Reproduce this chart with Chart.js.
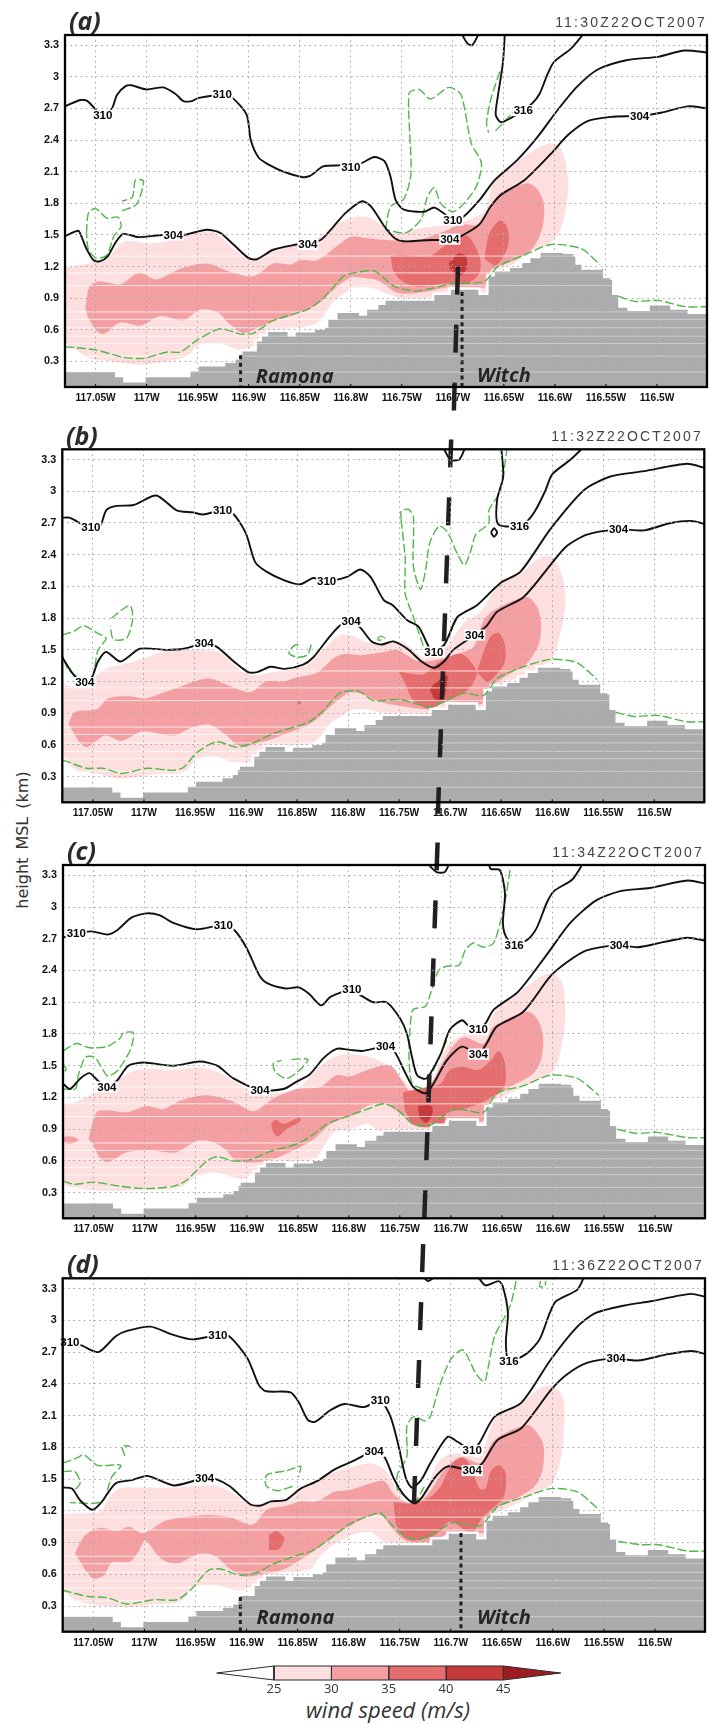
<!DOCTYPE html>
<html>
<head>
<meta charset="utf-8">
<title>Wind speed cross sections</title>
<script src="https://cdn.jsdelivr.net/npm/chart.js@4"></script>
<style>
  html, body { margin: 0; padding: 0; background: #fff; }
  #page { position: relative; width: 709px; height: 1724px; overflow: hidden; }
  canvas { position: absolute; left: 0; }
  .tag { position: absolute; font: italic 700 25px "Open Sans", sans-serif; color: #2b2b2b; line-height: 1; }
  .time { position: absolute; font: 14px "Liberation Sans", sans-serif; letter-spacing: 2.2px; color: #444; line-height: 1; white-space: nowrap; }
  #yTitle { position: absolute; left: 22px; top: 840px; font: 16px "DejaVu Sans", sans-serif; color: #333; word-spacing: 3px;
            transform: translate(-50%, -50%) rotate(-90deg); white-space: nowrap; }
  #barTitle { position: absolute; left: 388px; top: 1709px; font: italic 22px "Open Sans", sans-serif; color: #333;
              transform: translate(-50%, -50%); white-space: nowrap; }
</style>
</head>
<body>
<div id="page">
  <div id="yTitle">height MSL (km)</div>
  <div id="barTitle">wind speed (m/s)</div>
</div>
<script>
// axis ticks
const lonTicks = [117.05, 117, 116.95, 116.9, 116.85, 116.8, 116.75, 116.7, 116.65, 116.6, 116.55, 116.5];
const heightTicks = [0.3, 0.6, 0.9, 1.2, 1.5, 1.8, 2.1, 2.4, 2.7, 3, 3.3];
const lonRange = [117.08, 116.451];
const heightRange = [0.058, 3.397];

// terrain top, [lon of step start, km]
const terrain = [[117.08,.2],[117.031,.15],[117.023,.1],[117.001,.15],[116.957,.205],[116.949,.253],[116.923,.285],[116.913,.316],[116.908,.364],[116.906,.395],[116.892,.49],[116.887,.537],[116.881,.58],[116.862,.537],[116.854,.575],[116.835,.6],[116.825,.62],[116.822,.695],[116.813,.759],[116.792,.733],[116.784,.79],[116.773,.837],[116.766,.875],[116.718,.93],[116.702,.98],[116.675,.93],[116.665,1.106],[116.659,1.153],[116.644,1.187],[116.632,1.235],[116.624,1.28],[116.614,1.33],[116.592,1.32],[116.582,1.295],[116.58,1.217],[116.574,1.17],[116.554,1.18],[116.553,1.09],[116.546,1.075],[116.544,.93],[116.538,.81],[116.529,.78],[116.507,.83],[116.494,.83],[116.487,.79],[116.47,.75],[116.45,.75]];
// faint light rows that run through the shaded fields
const bandHeights = [1.3, 1.14, 1.02, .77, .7, .62, .54, .47, .35, .2];

// panel a, 11:30Z
const aWind25 = [[117.08,1.19],[117.062,1.22],[117.049,1.25],[117.039,1.28],[117.031,1.36],[117.021,1.44],[116.997,1.42],[116.98,1.44],[116.954,1.51],[116.935,1.53],[116.915,1.37],[116.9,1.28],[116.892,1.26],[116.872,1.37],[116.85,1.41],[116.833,1.47],[116.817,1.58],[116.8,1.66],[116.784,1.67],[116.771,1.6],[116.759,1.52],[116.735,1.56],[116.692,1.62],[116.674,1.69],[116.668,1.74],[116.663,1.93],[116.658,2.05],[116.637,2.2],[116.614,2.34],[116.604,2.37],[116.594,2.32],[116.587,2.02],[116.589,1.77],[116.596,1.52],[116.607,1.41],[116.623,1.35],[116.64,1.23],[116.659,1.15],[116.668,.95],[116.679,.96],[116.699,.98],[116.718,.92],[116.744,.88],[116.761,.93],[116.78,1],[116.8,1],[116.804,.96],[116.817,.87],[116.827,.73],[116.836,.65],[116.882,.57],[116.892,.47],[116.908,.41],[116.928,.47],[116.948,.46],[116.961,.35],[116.98,.3],[117.006,.27],[117.033,.3],[117.056,.33],[117.069,.41],[117.08,.47]];
const aWind30 = [[117.06,.81],[117.056,1.01],[117.046,1.06],[117.026,1.03],[117.008,1.14],[116.99,1.08],[116.967,1.18],[116.941,1.23],[116.918,1.15],[116.895,1.11],[116.876,1.23],[116.859,1.22],[116.85,1.26],[116.833,1.26],[116.817,1.37],[116.8,1.48],[116.784,1.47],[116.761,1.45],[116.735,1.45],[116.712,1.52],[116.692,1.6],[116.674,1.6],[116.663,1.78],[116.653,1.9],[116.627,1.99],[116.617,1.93],[116.611,1.8],[116.612,1.58],[116.622,1.37],[116.64,1.26],[116.656,1.2],[116.664,1.15],[116.668,1.01],[116.686,1],[116.702,1.01],[116.728,.96],[116.754,.95],[116.774,1.07],[116.793,1.1],[116.8,1.1],[116.817,.98],[116.833,.84],[116.856,.74],[116.882,.66],[116.905,.57],[116.918,.65],[116.931,.77],[116.948,.79],[116.964,.69],[116.987,.73],[117.006,.64],[117.026,.67],[117.042,.56],[117.05,.6],[117.058,.73]];
const aWind35a = [[116.761,1.3],[116.751,1.31],[116.723,1.3],[116.705,1.42],[116.687,1.5],[116.674,1.3],[116.674,1.14],[116.686,1.04],[116.708,1.04],[116.735,1.01],[116.751,1.07],[116.759,1.17]];
const aWind35b = [[116.669,1.28],[116.664,1.52],[116.653,1.64],[116.646,1.55],[116.646,1.39],[116.653,1.26],[116.659,1.21],[116.666,1.25]];
const aWind40 = [[116.695,1.33],[116.687,1.3],[116.687,1.17],[116.694,1.11],[116.702,1.17],[116.704,1.23]];
const aTheta304 = [[117.08,1.49],[117.067,1.54],[117.064,1.49],[117.059,1.37],[117.052,1.26],[117.046,1.25],[117.038,1.3],[117.031,1.42],[117.023,1.51],[117.008,1.48],[116.984,1.5],[116.964,1.5],[116.941,1.55],[116.928,1.52],[116.915,1.41],[116.9,1.28],[116.892,1.27],[116.876,1.36],[116.853,1.41],[116.83,1.45],[116.817,1.58],[116.805,1.71],[116.789,1.82],[116.78,1.77],[116.767,1.58],[116.757,1.47],[116.748,1.44],[116.728,1.45],[116.703,1.46],[116.692,1.49],[116.674,1.6],[116.663,1.77],[116.653,1.88],[116.63,2.02],[116.604,2.27],[116.587,2.45],[116.568,2.58],[116.545,2.62],[116.517,2.63],[116.496,2.66],[116.47,2.72],[116.45,2.7]];
const aTheta310 = [[117.08,2.72],[117.065,2.78],[117.058,2.77],[117.043,2.63],[117.034,2.7],[117.029,2.83],[117.021,2.91],[117.015,2.92],[117,2.88],[116.984,2.9],[116.972,2.84],[116.964,2.77],[116.956,2.77],[116.949,2.8],[116.926,2.83],[116.917,2.81],[116.902,2.64],[116.898,2.4],[116.89,2.23],[116.879,2.16],[116.866,2.1],[116.848,2.05],[116.84,2.06],[116.827,2.15],[116.81,2.16],[116.79,2.18],[116.777,2.24],[116.767,2.2],[116.761,2.05],[116.756,1.83],[116.748,1.74],[116.728,1.72],[116.718,1.76],[116.707,1.69],[116.7,1.64],[116.69,1.67],[116.674,1.83],[116.659,2.02],[116.637,2.21],[116.617,2.43],[116.597,2.69],[116.578,2.91],[116.558,3.07],[116.529,3.16],[116.499,3.19],[116.473,3.25],[116.45,3.23]];
const aTheta316 = [[116.571,3.42],[116.584,3.27],[116.601,3.14],[116.607,3.03],[116.615,2.84],[116.622,2.75],[116.631,2.68],[116.643,2.61],[116.653,2.57],[116.658,2.64],[116.656,2.81],[116.651,3.13],[116.649,3.42]];
const aThetaTop = [[116.692,3.42],[116.686,3.32],[116.681,3.3],[116.674,3.42]];
const aGreen1 = [[117.08,.44],[117.05,.41],[117.023,.34],[117.003,.33],[116.98,.39],[116.967,.39],[116.951,.5],[116.928,.61],[116.908,.56],[116.895,.57],[116.876,.69],[116.843,.79],[116.827,.9],[116.807,1.11],[116.797,1.14],[116.777,1.16],[116.757,1.01],[116.735,.97],[116.699,1.04],[116.669,1.06],[116.656,1.2],[116.63,1.31],[116.604,1.41],[116.574,1.37],[116.556,1.22]];
const aGreen2 = [[116.538,.92],[116.522,.87],[116.499,.88],[116.473,.82],[116.45,.82]];
const aGreen3 = [[116.766,1.55],[116.761,1.77],[116.748,1.84],[116.741,2.09],[116.743,2.84],[116.733,2.88],[116.722,2.79],[116.704,2.9],[116.692,2.83],[116.682,2.37],[116.672,2.18],[116.677,1.96],[116.689,1.8],[116.7,1.72],[116.712,1.8],[116.718,1.95],[116.725,1.86],[116.731,1.65],[116.746,1.52],[116.766,1.55]];
const aGreen4 = [[116.604,3.42],[116.607,3.21],[116.62,2.97],[116.636,2.72],[116.659,2.48]];
const aGreen5 = [[116.654,3.05],[116.663,2.78],[116.667,2.56],[116.665,2.47]];
const aGreen6 = [[117.059,1.52],[117.057,1.71],[117.05,1.75],[117.039,1.66],[117.028,1.67],[117.025,1.58],[117.032,1.49],[117.039,1.31],[117.049,1.28],[117.057,1.36],[117.059,1.52]];
const aGreen7 = [[117.024,1.73],[117.01,1.79],[117.003,2.01],[117.011,2.02],[117.014,1.86],[117.024,1.82]];
const aLabels = [['310',117.043,2.635],['310',116.926,2.83],['310',116.8,2.14],['304',116.974,1.5],['304',116.842,1.41],['316',116.631,2.68],['304',116.517,2.63],['310',116.7,1.64],['304',116.703,1.46]];
const aSlash = [[116.695,1.2],[116.699,-.165]];

// panel b, 11:32Z
const bWind25 = [[117.08,1.18],[117.068,1.15],[117.051,1.23],[117.037,1.32],[117.017,1.37],[116.997,1.43],[116.978,1.49],[116.945,1.5],[116.925,1.47],[116.906,1.31],[116.893,1.26],[116.863,1.31],[116.84,1.36],[116.827,1.48],[116.808,1.64],[116.798,1.64],[116.782,1.57],[116.765,1.56],[116.746,1.57],[116.726,1.43],[116.707,1.5],[116.687,1.75],[116.671,1.85],[116.651,2.13],[116.631,2.22],[116.612,2.37],[116.6,2.38],[116.59,2.19],[116.587,1.94],[116.592,1.66],[116.6,1.42],[116.615,1.32],[116.635,1.23],[116.661,1.13],[116.667,.96],[116.68,.96],[116.697,.98],[116.718,.88],[116.739,.9],[116.765,.9],[116.782,.94],[116.798,.93],[116.801,.91],[116.818,.8],[116.827,.68],[116.837,.61],[116.88,.57],[116.893,.45],[116.912,.44],[116.929,.49],[116.948,.47],[116.961,.34],[116.984,.33],[117.024,.28],[117.046,.33],[117.066,.36],[117.08,.5]];
const bWind30 = [[117.074,.8],[117.068,.91],[117.046,.94],[117.035,1.04],[117.014,1.06],[116.999,1.04],[116.971,1.13],[116.938,1.23],[116.919,1.17],[116.896,1.1],[116.88,1.2],[116.863,1.2],[116.85,1.24],[116.831,1.28],[116.814,1.42],[116.804,1.46],[116.788,1.45],[116.778,1.46],[116.765,1.48],[116.752,1.5],[116.733,1.4],[116.716,1.4],[116.69,1.47],[116.677,1.53],[116.667,1.78],[116.654,1.89],[116.625,2],[116.615,1.91],[116.611,1.75],[116.613,1.56],[116.625,1.37],[116.644,1.26],[116.657,1.18],[116.666,1.1],[116.669,.99],[116.687,.99],[116.703,1.01],[116.72,.94],[116.742,.96],[116.769,1.01],[116.788,1.09],[116.798,1.1],[116.801,1.09],[116.818,.96],[116.834,.82],[116.857,.72],[116.883,.63],[116.906,.59],[116.919,.69],[116.935,.79],[116.952,.77],[116.971,.69],[117.001,.73],[117.022,.64],[117.038,.69],[117.056,.58],[117.064,.63]];
const bWind35a = [[116.75,1.29],[116.726,1.27],[116.71,1.39],[116.689,1.46],[116.674,1.29],[116.68,1.15],[116.693,1.06],[116.71,.99],[116.72,.94],[116.736,1.02],[116.744,1.18]];
const bWind35b = [[116.674,1.29],[116.661,1.62],[116.652,1.66],[116.646,1.53],[116.647,1.37],[116.657,1.24],[116.664,1.19]];
const bWind35c = [[116.85,1],[116.848,1.02],[116.846,1],[116.848,.98]];
const bWind40 = [[116.72,1.13],[116.713,1.2],[116.703,1.26],[116.704,1.12],[116.708,1.02],[116.716,1.04]];
const bTheta304 = [[117.08,1.43],[117.073,1.32],[117.066,1.23],[117.058,1.19],[117.051,1.24],[117.045,1.39],[117.037,1.48],[117.023,1.39],[117.004,1.51],[116.978,1.5],[116.961,1.51],[116.941,1.56],[116.929,1.53],[116.912,1.39],[116.898,1.29],[116.889,1.29],[116.876,1.34],[116.862,1.32],[116.844,1.36],[116.834,1.43],[116.821,1.59],[116.808,1.73],[116.797,1.77],[116.788,1.71],[116.777,1.58],[116.767,1.55],[116.756,1.58],[116.742,1.51],[116.728,1.39],[116.716,1.33],[116.706,1.39],[116.697,1.5],[116.676,1.64],[116.664,1.73],[116.654,1.86],[116.628,2],[116.602,2.3],[116.586,2.48],[116.566,2.59],[116.535,2.64],[116.51,2.63],[116.484,2.7],[116.464,2.72],[116.45,2.69]];
const bTheta310 = [[117.08,2.75],[117.073,2.75],[117.061,2.69],[117.052,2.66],[117.043,2.67],[117.037,2.82],[117.028,2.86],[117.01,2.87],[116.988,2.96],[116.968,2.82],[116.952,2.8],[116.942,2.78],[116.923,2.82],[116.912,2.78],[116.9,2.6],[116.891,2.33],[116.88,2.24],[116.863,2.16],[116.847,2.12],[116.834,2.18],[116.821,2.15],[116.801,2.19],[116.788,2.26],[116.778,2.19],[116.765,1.97],[116.756,1.92],[116.742,1.78],[116.731,1.72],[116.721,1.53],[116.716,1.48],[116.705,1.56],[116.693,1.81],[116.674,1.92],[116.651,2.13],[116.631,2.24],[116.602,2.64],[116.569,3.01],[116.543,3.14],[116.51,3.19],[116.468,3.26],[116.45,3.22]];
const bTheta316 = [[116.569,3.42],[116.582,3.3],[116.6,3.16],[116.607,3],[116.617,2.81],[116.625,2.71],[116.632,2.67],[116.653,2.69],[116.654,2.92],[116.648,3.14],[116.65,3.42]];
const bThetaLoop = [[116.66,2.61],[116.657,2.65],[116.654,2.61],[116.657,2.57],[116.66,2.61]];
const bThetaTop = [[116.707,3.42],[116.7,3.3],[116.691,3.3],[116.685,3.42]];
const bGreen1 = [[117.08,.46],[117.056,.38],[117.04,.38],[117.022,.33],[116.997,.38],[116.971,.36],[116.961,.39],[116.948,.53],[116.929,.63],[116.909,.58],[116.893,.62],[116.873,.71],[116.84,.81],[116.827,.9],[116.808,1.09],[116.79,1.11],[116.775,1.02],[116.749,1.03],[116.72,.96],[116.706,1.01],[116.687,1.09],[116.667,1.07],[116.654,1.23],[116.628,1.34],[116.602,1.41],[116.576,1.38],[116.556,1.22]];
const bGreen2 = [[116.538,.91],[116.52,.87],[116.497,.88],[116.468,.82],[116.45,.82]];
const bGreen3 = [[116.748,2.73],[116.748,2.81],[116.741,2.83],[116.736,2.76],[116.736,2.29],[116.729,2.07],[116.724,2.26],[116.72,2.51],[116.711,2.67],[116.703,2.62],[116.693,2.41],[116.686,2.3],[116.68,2.43],[116.675,2.59],[116.662,2.7],[116.662,2.82],[116.651,3],[116.644,3.42]];
const bGreen4 = [[116.748,2.73],[116.744,2.35],[116.744,2.03],[116.736,1.81],[116.726,1.53]];
const bGreen5 = [[116.602,3.42],[116.605,3.2],[116.618,2.92],[116.631,2.76],[116.644,2.59],[116.654,2.45],[116.672,2.3],[116.684,2.1],[116.693,1.81],[116.706,1.53]];
const bGreen6 = [[116.771,1.61],[116.768,1.63],[116.764,1.61],[116.77,1.59],[116.771,1.61]];
const bGreen7 = [[117.08,1.64],[117.068,1.68],[117.059,1.73],[117.046,1.66],[117.037,1.61],[117.045,1.5],[117.051,1.24],[117.063,1.24],[117.074,1.31],[117.08,1.45]];
const bGreen8 = [[117.032,1.8],[117.014,1.92],[117.011,1.8],[117.017,1.61],[117.03,1.6],[117.033,1.73]];
const bGreen9 = [[116.836,1.55],[116.84,1.45],[116.85,1.43],[116.858,1.47],[116.853,1.54],[116.846,1.55]];
const bLabels = [['310',117.052,2.66],['310',116.923,2.82],['310',116.821,2.15],['304',117.058,1.19],['304',116.941,1.56],['304',116.797,1.77],['310',116.716,1.48],['304',116.676,1.64],['316',116.632,2.67],['304',116.535,2.64]];
const bSlash = [[116.699,3.49],[116.712,-.05]];

// panel c, 11:34Z
const cWind25 = [[117.08,1.13],[117.067,1.16],[117.05,1.24],[117.037,1.31],[117.024,1.38],[117.011,1.45],[116.995,1.47],[116.972,1.46],[116.946,1.48],[116.926,1.43],[116.903,1.3],[116.893,1.24],[116.88,1.24],[116.861,1.25],[116.848,1.3],[116.831,1.47],[116.815,1.58],[116.799,1.61],[116.779,1.58],[116.759,1.49],[116.743,1.33],[116.733,1.28],[116.72,1.33],[116.704,1.68],[116.688,1.79],[116.668,1.84],[116.655,2.03],[116.632,2.2],[116.612,2.34],[116.601,2.37],[116.591,2.29],[116.588,1.99],[116.591,1.71],[116.599,1.46],[116.612,1.38],[116.635,1.27],[116.661,1.14],[116.666,.94],[116.678,.95],[116.697,1],[116.717,.89],[116.74,.87],[116.766,.87],[116.782,.95],[116.799,.9],[116.815,.87],[116.825,.73],[116.835,.6],[116.88,.59],[116.89,.51],[116.906,.43],[116.929,.49],[116.949,.46],[116.965,.35],[116.998,.33],[117.044,.32],[117.07,.35],[117.08,.38]];
const cWind30 = [[117.055,.81],[117.047,1.06],[117.037,1.08],[117.018,1.06],[116.998,1.12],[116.982,1.09],[116.965,1.17],[116.939,1.22],[116.913,1.16],[116.893,1.07],[116.874,1.19],[116.851,1.28],[116.828,1.3],[116.812,1.41],[116.799,1.4],[116.779,1.47],[116.759,1.5],[116.746,1.33],[116.737,1.24],[116.72,1.33],[116.707,1.55],[116.694,1.73],[116.686,1.77],[116.668,1.71],[116.658,1.87],[116.625,2.01],[116.616,1.95],[116.61,1.8],[116.611,1.58],[116.619,1.43],[116.642,1.3],[116.658,1.2],[116.665,1.11],[116.668,.98],[116.681,.98],[116.702,1],[116.72,.92],[116.737,.94],[116.75,1.05],[116.766,1.14],[116.782,1.12],[116.799,1.01],[116.802,1.01],[116.818,.95],[116.834,.81],[116.854,.7],[116.88,.6],[116.91,.6],[116.92,.7],[116.933,.78],[116.949,.79],[116.969,.68],[116.995,.7],[117.018,.68],[117.036,.59],[117.044,.63],[117.05,.75]];
const cWind30b = [[117.08,.83],[117.072,.83],[117.065,.8],[117.073,.76],[117.08,.78]];
const cWind35a = [[116.747,1.25],[116.724,1.3],[116.71,1.33],[116.701,1.46],[116.688,1.49],[116.673,1.46],[116.661,1.55],[116.653,1.64],[116.647,1.52],[116.648,1.3],[116.668,1.16],[116.688,1.09],[116.704,1.05],[116.707,.95],[116.727,.92],[116.737,.95],[116.745,1.08]];
const cWind35b = [[116.876,.95],[116.872,.99],[116.864,.95],[116.848,1.01],[116.848,.97],[116.861,.9],[116.87,.83],[116.875,.89]];
const cWind40 = [[116.732,1.12],[116.719,1.12],[116.718,1.05],[116.724,.96],[116.731,1.01]];
const cTheta304 = [[117.08,1.33],[117.073,1.28],[117.063,1.38],[117.054,1.43],[117.046,1.36],[117.037,1.3],[117.027,1.36],[117.016,1.5],[117.001,1.53],[116.972,1.5],[116.946,1.54],[116.929,1.5],[116.913,1.38],[116.887,1.27],[116.864,1.28],[116.851,1.35],[116.838,1.42],[116.825,1.57],[116.812,1.66],[116.799,1.65],[116.786,1.64],[116.764,1.68],[116.755,1.63],[116.746,1.46],[116.737,1.3],[116.725,1.24],[116.717,1.33],[116.704,1.55],[116.689,1.68],[116.673,1.61],[116.665,1.71],[116.655,1.87],[116.629,2.01],[116.603,2.34],[116.586,2.48],[116.567,2.59],[116.535,2.64],[116.517,2.62],[116.491,2.67],[116.468,2.71],[116.45,2.68]];
const cTheta310 = [[117.08,2.71],[117.067,2.75],[117.052,2.77],[117.036,2.74],[117.027,2.78],[117.013,2.9],[116.998,2.94],[116.985,2.92],[116.972,2.85],[116.949,2.79],[116.923,2.83],[116.912,2.78],[116.9,2.61],[116.888,2.36],[116.88,2.28],[116.862,2.23],[116.849,2.24],[116.839,2.18],[116.827,2.07],[116.818,2.15],[116.797,2.22],[116.789,2.17],[116.776,2.1],[116.763,2.1],[116.75,1.95],[116.743,1.8],[116.738,1.58],[116.733,1.41],[116.724,1.38],[116.71,1.61],[116.701,1.84],[116.689,1.93],[116.683,1.88],[116.673,1.84],[116.666,1.9],[116.658,2.03],[116.634,2.2],[116.606,2.55],[116.583,2.85],[116.558,3.06],[116.534,3.15],[116.505,3.18],[116.468,3.25],[116.45,3.22]];
const cTheta316 = [[116.57,3.42],[116.581,3.26],[116.599,3.15],[116.606,3.04],[116.616,2.8],[116.625,2.69],[116.638,2.64],[116.646,2.72],[116.649,2.85],[116.647,3.13],[116.652,3.35],[116.661,3.36],[116.663,3.42]];
const cThetaTop = [[116.724,3.42],[116.714,3.33],[116.706,3.33],[116.701,3.42]];
const cGreen1 = [[117.08,.41],[117.069,.38],[117.05,.4],[117.024,.36],[116.998,.34],[116.972,.36],[116.96,.41],[116.939,.6],[116.929,.64],[116.913,.6],[116.897,.61],[116.877,.69],[116.851,.76],[116.835,.85],[116.821,.95],[116.799,1.03],[116.782,1.09],[116.766,1.14],[116.753,1.09],[116.737,.95],[116.72,.94],[116.697,1.09],[116.668,1.06],[116.655,1.24],[116.629,1.31],[116.603,1.41],[116.576,1.38],[116.555,1.22]];
const cGreen2 = [[116.537,.9],[116.518,.86],[116.498,.87],[116.468,.82],[116.45,.82]];
const cGreen3 = [[116.642,3.35],[116.648,3],[116.658,2.66],[116.668,2.62],[116.678,2.66],[116.686,2.59],[116.692,2.45],[116.704,2.44],[116.712,2.4],[116.72,2.18],[116.725,2.06],[116.737,2.03],[116.74,1.84],[116.741,1.58],[116.738,1.33],[116.727,1.28]];
const cGreen4 = [[116.601,3.42],[116.606,3.19],[116.62,2.88],[116.635,2.72],[116.645,2.56],[116.658,2.37],[116.668,2.18],[116.681,2.14],[116.692,2.09],[116.704,1.74],[116.719,1.42]];
const cGreen5 = [[117.08,1.64],[117.067,1.71],[117.054,1.67],[117.037,1.68],[117.024,1.76],[117.021,1.81],[117.011,1.81],[117.014,1.65],[117.026,1.46],[117.036,1.4],[117.042,1.48],[117.049,1.58],[117.058,1.58],[117.065,1.41],[117.068,1.28],[117.08,1.28]];
const cGreen6 = [[117.08,1.52],[117.077,1.47],[117.08,1.42]];
const cGreen7 = [[116.856,1.56],[116.84,1.56],[116.848,1.46],[116.861,1.38],[116.872,1.44],[116.874,1.52],[116.866,1.55]];
const cLabels = [['310',117.067,2.75],['310',116.923,2.83],['310',116.797,2.22],['304',117.037,1.3],['304',116.887,1.27],['304',116.764,1.68],['310',116.673,1.84],['304',116.673,1.61],['316',116.638,2.64],['304',116.535,2.64]];
const cSlash = [[116.713,3.61],[116.727,-.22]];

// panel d, 11:36Z
const dWind25 = [[117.08,1.17],[117.053,1.18],[117.043,1.19],[117.035,1.32],[117.025,1.41],[117.01,1.42],[116.971,1.42],[116.932,1.44],[116.916,1.38],[116.902,1.29],[116.889,1.24],[116.88,1.29],[116.86,1.3],[116.84,1.44],[116.818,1.55],[116.798,1.61],[116.778,1.65],[116.765,1.59],[116.756,1.46],[116.746,1.3],[116.736,1.27],[116.726,1.35],[116.713,1.65],[116.7,1.74],[116.684,1.73],[116.671,1.71],[116.661,1.98],[116.654,2.11],[116.631,2.22],[116.612,2.36],[116.6,2.38],[116.59,2.27],[116.589,2],[116.592,1.71],[116.6,1.46],[116.615,1.38],[116.635,1.27],[116.661,1.14],[116.666,.94],[116.68,.95],[116.7,.99],[116.72,.88],[116.746,.88],[116.765,.91],[116.778,1],[116.798,.97],[116.801,.95],[116.818,.86],[116.831,.73],[116.837,.65],[116.88,.59],[116.889,.51],[116.906,.45],[116.932,.5],[116.952,.48],[116.965,.34],[116.988,.32],[117.017,.29],[117.046,.31],[117.066,.35],[117.08,.45]];
const dWind30 = [[117.068,.8],[117.058,.97],[117.043,1.04],[117.027,1.01],[117.015,1.05],[117.001,.99],[116.978,1.11],[116.938,1.16],[116.916,1.14],[116.894,1.07],[116.88,1.21],[116.86,1.25],[116.847,1.29],[116.831,1.29],[116.814,1.38],[116.798,1.4],[116.778,1.46],[116.765,1.48],[116.756,1.36],[116.746,1.29],[116.736,1.27],[116.723,1.35],[116.706,1.59],[116.69,1.71],[116.671,1.65],[116.657,1.87],[116.625,2.01],[116.615,1.93],[116.609,1.81],[116.61,1.59],[116.618,1.43],[116.641,1.29],[116.657,1.22],[116.664,1.14],[116.667,1],[116.68,.99],[116.7,.99],[116.72,.91],[116.742,.91],[116.756,1.02],[116.769,1.16],[116.785,1.13],[116.798,1.06],[116.801,1.05],[116.821,.91],[116.84,.78],[116.863,.65],[116.88,.61],[116.902,.58],[116.916,.65],[116.932,.78],[116.948,.79],[116.968,.7],[116.984,.75],[116.999,.92],[117.006,.81],[117.014,.72],[117.032,.71],[117.04,.59],[117.05,.56],[117.058,.64]];
const dWind35a = [[116.756,1.28],[116.736,1.27],[116.72,1.33],[116.71,1.43],[116.698,1.65],[116.687,1.7],[116.679,1.59],[116.672,1.41],[116.666,1.41],[116.661,1.57],[116.653,1.63],[116.646,1.55],[116.648,1.33],[116.657,1.24],[116.669,1.14],[116.68,.99],[116.7,1.1],[116.716,.97],[116.736,.92],[116.746,.95],[116.754,1.08]];
const dWind35b = [[116.878,.97],[116.871,1.01],[116.863,.94],[116.868,.84],[116.878,.83]];
const dTheta304 = [[117.08,1.42],[117.071,1.41],[117.063,1.3],[117.051,1.21],[117.043,1.27],[117.028,1.46],[117.012,1.49],[116.997,1.53],[116.971,1.44],[116.941,1.51],[116.93,1.5],[116.916,1.43],[116.896,1.26],[116.886,1.25],[116.876,1.29],[116.862,1.3],[116.847,1.41],[116.831,1.48],[116.814,1.59],[116.798,1.66],[116.775,1.76],[116.765,1.71],[116.756,1.51],[116.746,1.35],[116.736,1.27],[116.728,1.33],[116.716,1.51],[116.703,1.62],[116.679,1.58],[116.669,1.65],[116.654,1.87],[116.631,1.98],[116.602,2.34],[116.586,2.49],[116.566,2.6],[116.538,2.64],[116.517,2.62],[116.487,2.68],[116.464,2.71],[116.45,2.68]];
const dTheta310 = [[117.08,2.79],[117.073,2.79],[117.061,2.76],[117.045,2.7],[117.028,2.85],[117.017,2.9],[116.994,2.94],[116.974,2.87],[116.953,2.82],[116.928,2.86],[116.917,2.85],[116.899,2.64],[116.888,2.39],[116.881,2.33],[116.857,2.32],[116.849,2.23],[116.84,2.06],[116.833,2.04],[116.818,2.15],[116.804,2.21],[116.785,2.18],[116.769,2.24],[116.759,2.09],[116.751,1.81],[116.744,1.51],[116.738,1.42],[116.729,1.49],[116.72,1.65],[116.703,1.9],[116.693,1.85],[116.679,1.77],[116.672,1.84],[116.657,2.09],[116.631,2.22],[116.602,2.63],[116.576,2.94],[116.558,3.07],[116.53,3.14],[116.504,3.18],[116.465,3.25],[116.45,3.22]];
const dTheta316 = [[116.569,3.42],[116.576,3.29],[116.597,3.18],[116.603,3.07],[116.613,2.82],[116.625,2.69],[116.643,2.61],[116.646,2.79],[116.644,3.07],[116.649,3.32],[116.653,3.37],[116.666,3.33],[116.674,3.42]];
const dThetaTop = [[116.726,3.4],[116.722,3.37],[116.717,3.4]];
const dGreen1 = [[117.08,.45],[117.055,.39],[117.037,.38],[117.017,.32],[116.991,.36],[116.968,.36],[116.955,.45],[116.937,.64],[116.925,.65],[116.906,.59],[116.889,.62],[116.873,.7],[116.85,.78],[116.834,.83],[116.814,.97],[116.798,1.08],[116.778,1.16],[116.769,1.18],[116.756,1.05],[116.746,.97],[116.733,.93],[116.716,.99],[116.697,1.09],[116.671,1.06],[116.654,1.24],[116.628,1.33],[116.602,1.41],[116.576,1.38],[116.556,1.22]];
const dGreen2 = [[116.536,.91],[116.513,.88],[116.497,.88],[116.468,.82],[116.45,.82]];
const dGreen3 = [[116.636,3.37],[116.642,3.13],[116.657,2.85],[116.663,2.57],[116.667,2.42],[116.675,2.49],[116.688,2.72],[116.7,2.63],[116.711,2.38],[116.72,2.09],[116.725,2.05],[116.736,2.09],[116.743,2],[116.743,1.71],[116.752,1.55],[116.752,1.4],[116.738,1.29]];
const dGreen4 = [[116.603,3.37],[116.612,3.01],[116.625,2.75],[116.644,2.53],[116.661,2.34],[116.671,2.12],[116.677,1.95],[116.687,1.94],[116.7,2.03],[116.71,1.87],[116.726,1.43],[116.734,1.29]];
const dGreen5 = [[116.612,3.37],[116.613,3.32],[116.608,3.32],[116.607,3.37]];
const dGreen6 = [[117.08,1.65],[117.066,1.7],[117.059,1.73],[117.046,1.63],[117.023,1.63],[117.032,1.52],[117.04,1.3],[117.05,1.27],[117.073,1.28]];
const dGreen7 = [[117.08,1.57],[117.068,1.57],[117.063,1.46],[117.068,1.4]];
const dGreen8 = [[117.019,1.72],[117.022,1.81],[117.014,1.81]];
const dGreen9 = [[116.855,1.43],[116.87,1.39],[116.881,1.44],[116.88,1.54],[116.86,1.58],[116.847,1.62],[116.849,1.52]];
const dLabels = [['310',117.073,2.79],['310',116.928,2.86],['304',116.941,1.51],['310',116.769,2.24],['304',116.775,1.76],['310',116.679,1.77],['304',116.679,1.58],['316',116.643,2.61],['304',116.538,2.64]];
const dSlash = [[116.727,3.72],[116.736,1.27]];

// fire sites marked on panels a and d
const aRamona = [[116.908,.36],[116.908,.06]];
const aWitch = [[116.691,.96],[116.691,.06]];
const dRamona = [[116.906,.385],[116.906,.06]];
const dWitch = [[116.69,.99],[116.69,.06]];
const aSites = [['Ramona',116.855,.15],['Witch',116.65,.16]];
const dSites = [['Ramona',116.852,.18],['Witch',116.648,.18]];

// colour bar
const barEdges = [25, 30, 35, 40, 45];
const barEnds = [20, 50];
const barColors = ['#fcdfde', '#f49fa2', '#e56d6e', '#c63a3a'];
const barTopColor = '#9c1c1f';

const windColors = { w25: '#fcdfde', w30: '#f49fa2', w35: '#e56d6e', w40: '#c63a3a' };

const panels = [
  { tag: '(a)', time: '11:30Z22OCT2007', left: 65, right: 707, top: 35, bottom: 387, tagX: 69, tagY: 8, timeRight: 707, timeY: 15,
    w25: [aWind25], w30: [aWind30], w35: [aWind35a, aWind35b], w40: [aWind40],
    theta: [aTheta304, aTheta310, aTheta316, aThetaTop],
    green: [aGreen1, aGreen2, aGreen3, aGreen4, aGreen5, aGreen6, aGreen7],
    labels: aLabels, slash: aSlash, dots: [aRamona, aWitch], sites: aSites },
  { tag: '(b)', time: '11:32Z22OCT2007', left: 62.3, right: 704.3, top: 449.3, bottom: 802.3, tagX: 66, tagY: 423, timeRight: 703, timeY: 429,
    w25: [bWind25], w30: [bWind30], w35: [bWind35a, bWind35b, bWind35c], w40: [bWind40],
    theta: [bTheta304, bTheta310, bTheta316, bThetaLoop, bThetaTop],
    green: [bGreen1, bGreen2, bGreen3, bGreen4, bGreen5, bGreen6, bGreen7, bGreen8, bGreen9],
    labels: bLabels, slash: bSlash, dots: [], sites: [] },
  { tag: '(c)', time: '11:34Z22OCT2007', left: 63, right: 705, top: 865, bottom: 1218.3, tagX: 67, tagY: 838, timeRight: 704, timeY: 845,
    w25: [cWind25], w30: [cWind30, cWind30b], w35: [cWind35a, cWind35b], w40: [cWind40],
    theta: [cTheta304, cTheta310, cTheta316, cThetaTop],
    green: [cGreen1, cGreen2, cGreen3, cGreen4, cGreen5, cGreen6, cGreen7],
    labels: cLabels, slash: cSlash, dots: [], sites: [] },
  { tag: '(d)', time: '11:36Z22OCT2007', left: 62.7, right: 705, top: 1278.3, bottom: 1631.7, tagX: 67, tagY: 1251, timeRight: 704, timeY: 1258,
    w25: [dWind25], w30: [dWind30], w35: [dWind35a, dWind35b], w40: [],
    theta: [dTheta304, dTheta310, dTheta316, dThetaTop],
    green: [dGreen1, dGreen2, dGreen3, dGreen4, dGreen5, dGreen6, dGreen7, dGreen8, dGreen9],
    labels: dLabels, slash: dSlash, dots: [dRamona, dWitch], sites: dSites }
];

const page = document.getElementById('page');

function shade(points, color) {
  return { data: points, showLine: true, fill: 'shape', backgroundColor: color, borderWidth: 0, pointRadius: 0, tension: 0.3 };
}

function curve(points, color, width, dash, extra) {
  return Object.assign({ data: points, showLine: true, fill: false, borderColor: color, borderWidth: width, borderDash: dash || [], pointRadius: 0, tension: 0.25 }, extra || {});
}

// draws the contour labels, site names and the frame on top of everything
const overlay = {
  id: 'overlay',
  afterDraw(chart, args, opts) {
    const { ctx, chartArea: area, scales } = chart;
    ctx.save();
    ctx.textAlign = 'center';
    ctx.textBaseline = 'middle';
    ctx.font = 'bold 11.5px "Liberation Sans", sans-serif';
    opts.labels.forEach(function (l) {
      const x = scales.x.getPixelForValue(l[1]);
      const y = scales.y.getPixelForValue(l[2]);
      const w = ctx.measureText(l[0]).width + 2;
      ctx.fillStyle = '#fff';
      ctx.fillRect(x - w / 2, y - 5.5, w, 11);
      ctx.fillStyle = '#000';
      ctx.fillText(l[0], x, y + 0.5);
    });
    ctx.font = 'italic 700 20px "Open Sans", sans-serif';
    ctx.fillStyle = '#262425';
    opts.sites.forEach(function (s) {
      ctx.fillText(s[0], scales.x.getPixelForValue(s[1]), scales.y.getPixelForValue(s[2]));
    });
    ctx.strokeStyle = '#000';
    ctx.lineWidth = 1;
    lonTicks.forEach(function (v) {
      const x = scales.x.getPixelForValue(v);
      ctx.beginPath();
      ctx.moveTo(x, area.bottom);
      ctx.lineTo(x, area.bottom - 3);
      ctx.stroke();
    });
    ctx.lineWidth = 2.3;
    ctx.strokeRect(area.left, area.top, area.right - area.left, area.bottom - area.top);
    ctx.restore();
  }
};

panels.forEach(function (p) {
  const above = 48, below = 36;
  const canvas = document.createElement('canvas');
  const canvasTop = Math.round(p.top) - above;
  const canvasHeight = Math.round(p.bottom - p.top) + above + below;
  canvas.width = 709;
  canvas.height = canvasHeight;
  canvas.style.top = canvasTop + 'px';
  page.appendChild(canvas);

  // listed bottom layer first, reversed for Chart.js below
  let sets = [];
  p.w25.forEach(d => sets.push(shade(d, windColors.w25)));
  p.w30.forEach(d => sets.push(shade(d, windColors.w30)));
  p.w35.forEach(d => sets.push(shade(d, windColors.w35)));
  p.w40.forEach(d => sets.push(shade(d, windColors.w40)));
  bandHeights.forEach(h => sets.push(curve([[lonRange[0], h], [lonRange[1], h]], 'rgba(255,255,255,0.5)', 1)));
  // white halo first, the grey ground on top of it
  sets.push({ data: terrain, showLine: true, stepped: true, fill: false, borderColor: '#fff', borderWidth: 5, pointRadius: 0 });
  sets.push({ data: terrain, showLine: true, stepped: true, fill: 'start', backgroundColor: '#abacae', borderWidth: 0, pointRadius: 0 });
  bandHeights.forEach(h => sets.push(curve([[lonRange[0], h], [lonRange[1], h]], 'rgba(255,255,255,0.4)', 1)));
  p.green.forEach(d => sets.push(curve(d, '#4fb848', 1.4, [9, 3])));
  p.theta.forEach(d => sets.push(curve(d, '#111', 1.9)));
  p.dots.forEach(d => sets.push(curve(d, '#231f20', 3, [4, 3.6], { tension: 0 })));
  sets.push(curve(p.slash, '#231f20', 4.5, [28, 30], { tension: 0, clip: false }));
  sets = sets.reverse();

  new Chart(canvas, {
    type: 'scatter',
    data: { datasets: sets },
    plugins: [overlay],
    options: {
      responsive: false,
      animation: false,
      events: [],
      showLine: true,
      layout: { padding: { left: 0, top: Math.round(p.top) - canvasTop + (p.top - Math.round(p.top)), right: 709 - p.right, bottom: 0 } },
      plugins: { legend: { display: false }, tooltip: { enabled: false }, overlay: { labels: p.labels, sites: p.sites } },
      scales: {
        x: {
          type: 'linear',
          reverse: true,
          min: lonRange[0],
          max: lonRange[1],
          afterBuildTicks(s) { s.ticks = lonTicks.map(v => ({ value: v })); },
          afterFit(s) { s.height = canvasTop + canvasHeight - p.bottom; },
          grid: { color: '#a8a8aa', lineWidth: 1, drawTicks: false, z: 1 },
          border: { display: false, dash: [1.6, 3.6] },
          ticks: { autoSkip: false, maxRotation: 0, padding: 5, color: '#111', font: { family: '"Liberation Sans", sans-serif', weight: 'bold', size: 10.2 }, callback: v => v + 'W' }
        },
        y: {
          min: heightRange[0],
          max: heightRange[1],
          afterBuildTicks(s) { s.ticks = heightTicks.map(v => ({ value: v })); },
          afterFit(s) { s.width = p.left; },
          grid: { color: '#a8a8aa', lineWidth: 1, drawTicks: false, z: 1 },
          border: { display: false, dash: [1.6, 3.6] },
          ticks: { autoSkip: false, padding: 6, color: '#111', font: { family: '"Liberation Sans", sans-serif', weight: 'bold', size: 10.8 }, callback: v => String(v) }
        }
      }
    }
  });

  const tag = document.createElement('div');
  tag.className = 'tag';
  tag.textContent = p.tag;
  tag.style.left = p.tagX + 'px';
  tag.style.top = p.tagY + 'px';
  page.appendChild(tag);

  const time = document.createElement('div');
  time.className = 'time';
  time.textContent = p.time;
  time.style.right = (709 - p.timeRight) + 'px';
  time.style.top = p.timeY + 'px';
  page.appendChild(time);
});

// colour bar, a small chart of its own on a wind speed axis
const barCanvas = document.createElement('canvas');
barCanvas.width = 709;
barCanvas.height = 46;
barCanvas.style.top = '1656px';
page.appendChild(barCanvas);

function barBox(points, color) {
  return { data: points, showLine: true, fill: 'shape', backgroundColor: color, borderColor: '#2b2b2b', borderWidth: 1, pointRadius: 0, tension: 0, clip: false };
}

const barSets = [];
barColors.forEach(function (c, i) {
  barSets.push(barBox([[barEdges[i], 0], [barEdges[i + 1], 0], [barEdges[i + 1], 1], [barEdges[i], 1], [barEdges[i], 0]], c));
});
barSets.push(barBox([[barEdges[0], 0], [barEnds[0], 0.5], [barEdges[0], 1], [barEdges[0], 0]], '#fff'));
barSets.push(barBox([[barEdges[4], 0], [barEnds[1], 0.5], [barEdges[4], 1], [barEdges[4], 0]], barTopColor));

new Chart(barCanvas, {
  type: 'scatter',
  data: { datasets: barSets },
  options: {
    responsive: false,
    animation: false,
    events: [],
    showLine: true,
    layout: { padding: { left: 216.7, right: 709 - 560.7, top: 10, bottom: 0 } },
    plugins: { legend: { display: false }, tooltip: { enabled: false } },
    scales: {
      x: {
        min: barEnds[0],
        max: barEnds[1],
        afterBuildTicks(s) { s.ticks = barEdges.map(v => ({ value: v })); },
        afterFit(s) { s.height = 22; },
        grid: { display: false, drawTicks: false },
        border: { display: false },
        ticks: { autoSkip: false, maxRotation: 0, padding: 1, color: '#333', font: { family: '"Open Sans", sans-serif', size: 13 } }
      },
      y: { display: false, min: 0, max: 1 }
    }
  }
});
</script>
</body>
</html>
